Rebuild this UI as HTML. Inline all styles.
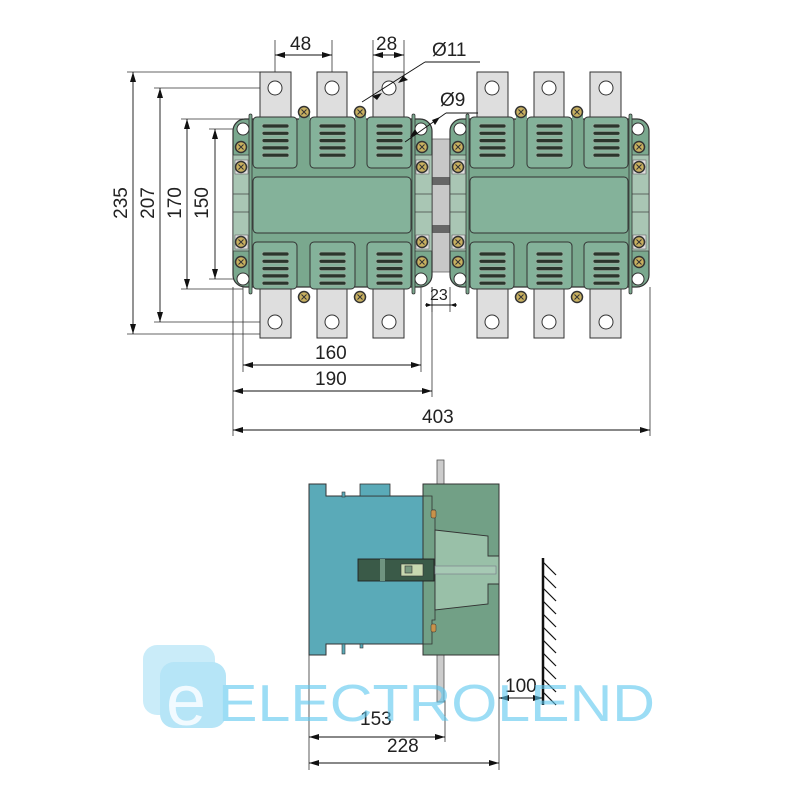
<!DOCTYPE html>
<html><head><meta charset="utf-8"><style>html,body{margin:0;padding:0;background:#fff}svg{display:block}</style></head>
<body>
<svg width="800" height="800" viewBox="0 0 800 800" xmlns="http://www.w3.org/2000/svg" font-family="Liberation Sans, sans-serif">
<defs>
<marker id="a" viewBox="0 0 10 6" refX="10" refY="3" markerWidth="10" markerHeight="6" orient="auto-start-reverse" markerUnits="userSpaceOnUse"><path d="M0,0L10,3L0,6z" fill="#111"/></marker>
<g id="scr"><circle r="5.5" fill="#c8b060" stroke="#333" stroke-width="1.5"/><path d="M-2.5,-2.5L2.5,2.5M2.5,-2.5L-2.5,2.5" stroke="#333" stroke-width="1"/></g>
<g id="slots">
<rect x="0" y="0" width="27" height="4" rx="2" fill="#2b352c" stroke="#9ab0a0" stroke-width="0.8"/>
<rect x="0" y="7.3" width="27" height="4" rx="2" fill="#2b352c" stroke="#9ab0a0" stroke-width="0.8"/>
<rect x="0" y="14.6" width="27" height="4" rx="2" fill="#2b352c" stroke="#9ab0a0" stroke-width="0.8"/>
<rect x="0" y="21.9" width="27" height="4" rx="2" fill="#2b352c" stroke="#9ab0a0" stroke-width="0.8"/>
<rect x="0" y="29.2" width="27" height="4" rx="2" fill="#2b352c" stroke="#9ab0a0" stroke-width="0.8"/>
</g>
<g id="unit">
<g fill="#dedede" stroke="#333" stroke-width="1">
<rect x="260" y="72" width="31" height="50"/><rect x="317" y="72" width="30" height="50"/><rect x="373" y="72" width="31" height="50"/>
<rect x="260" y="285" width="31" height="53"/><rect x="317" y="285" width="30" height="53"/><rect x="373" y="285" width="31" height="53"/>
</g>
<g fill="#fff" stroke="#333" stroke-width="1">
<circle cx="275" cy="88" r="7"/><circle cx="332" cy="88" r="7"/><circle cx="389" cy="88" r="7"/>
<circle cx="275" cy="322" r="7"/><circle cx="332" cy="322" r="7"/><circle cx="389" cy="322" r="7"/>
</g>
<rect x="233" y="119" width="199" height="168" rx="12" fill="#7aa88e" stroke="#333" stroke-width="1.2"/>
<rect x="233" y="155" width="18" height="96" fill="#a9c6b4" stroke="#444" stroke-width="0.8"/>
<rect x="414" y="155" width="18" height="96" fill="#a9c6b4" stroke="#444" stroke-width="0.8"/>
<line x1="233" y1="194" x2="251" y2="194" stroke="#444" stroke-width="0.8"/><line x1="233" y1="212" x2="251" y2="212" stroke="#444" stroke-width="0.8"/>
<line x1="414" y1="194" x2="432" y2="194" stroke="#444" stroke-width="0.8"/><line x1="414" y1="212" x2="432" y2="212" stroke="#444" stroke-width="0.8"/>
<rect x="249" y="114" width="3" height="180" rx="1.5" fill="#7aa88e" stroke="#333" stroke-width="0.8"/>
<rect x="412" y="114" width="3" height="180" rx="1.5" fill="#7aa88e" stroke="#333" stroke-width="0.8"/>
<g fill="#84b29a" stroke="#333" stroke-width="1">
<rect x="253" y="117" width="44" height="51" rx="4"/><rect x="310" y="117" width="45" height="51" rx="4"/><rect x="367" y="117" width="44" height="51" rx="4"/>
<rect x="253" y="177" width="158" height="56" rx="4"/>
<rect x="253" y="242" width="44" height="47" rx="4"/><rect x="310" y="242" width="45" height="47" rx="4"/><rect x="367" y="242" width="44" height="47" rx="4"/>
</g>
<rect x="299" y="110" width="11" height="10" fill="#7aa88e"/><rect x="355" y="110" width="11" height="10" fill="#7aa88e"/>
<use href="#slots" x="262" y="124"/><use href="#slots" x="319" y="124"/><use href="#slots" x="376" y="124"/>
<use href="#slots" x="262" y="252"/><use href="#slots" x="319" y="252"/><use href="#slots" x="376" y="252"/>
<g fill="#fff" stroke="#333" stroke-width="1">
<circle cx="243" cy="129" r="6"/><circle cx="243" cy="279" r="6"/><circle cx="421" cy="129" r="6"/><circle cx="421" cy="279" r="6"/>
</g>
<rect x="235" y="160" width="13" height="14" fill="#ddd" stroke="#666" stroke-width="0.6"/>
<rect x="235" y="235" width="13" height="14" fill="#ddd" stroke="#666" stroke-width="0.6"/>
<rect x="416" y="160" width="13" height="14" fill="#ddd" stroke="#666" stroke-width="0.6"/>
<rect x="416" y="235" width="13" height="14" fill="#ddd" stroke="#666" stroke-width="0.6"/>
<use href="#scr" x="241" y="147"/><use href="#scr" x="241" y="167"/><use href="#scr" x="241" y="242"/><use href="#scr" x="241" y="262"/>
<use href="#scr" x="422" y="147"/><use href="#scr" x="422" y="167"/><use href="#scr" x="422" y="242"/><use href="#scr" x="422" y="262"/>
<use href="#scr" x="304" y="112"/><use href="#scr" x="360" y="112"/><use href="#scr" x="304" y="297"/><use href="#scr" x="360" y="297"/>
</g>
</defs>

<rect x="432" y="139" width="18" height="133" fill="#c8c8c8" stroke="#666" stroke-width="0.8"/>
<rect x="432" y="177" width="18" height="8" fill="#666"/><rect x="432" y="225" width="18" height="8" fill="#666"/>

<g stroke="#333" stroke-width="0.8" fill="none">
<line x1="127" y1="72" x2="275" y2="72"/><line x1="127" y1="334" x2="275" y2="334"/>
<line x1="154" y1="88" x2="275" y2="88"/><line x1="154" y1="322" x2="275" y2="322"/>
<line x1="181" y1="119" x2="243" y2="119"/><line x1="181" y1="289" x2="243" y2="289"/>
<line x1="209" y1="129" x2="243" y2="129"/><line x1="209" y1="279" x2="243" y2="279"/>
<line x1="275" y1="40" x2="275" y2="88"/><line x1="332" y1="40" x2="332" y2="88"/>
<line x1="373" y1="40" x2="373" y2="72"/><line x1="404" y1="40" x2="404" y2="72"/>
<line x1="243" y1="279" x2="243" y2="372"/><line x1="421" y1="279" x2="421" y2="372"/>
<line x1="233" y1="287" x2="233" y2="436"/><line x1="432" y1="287" x2="432" y2="397"/>
<line x1="650" y1="287" x2="650" y2="436"/>
<line x1="432" y1="287" x2="432" y2="312"/><line x1="450" y1="287" x2="450" y2="312"/>
</g>

<use href="#unit"/>
<use href="#unit" x="217"/>

<g stroke="#111" stroke-width="0.9" fill="none" marker-start="url(#a)" marker-end="url(#a)">
<line x1="133" y1="72" x2="133" y2="334"/>
<line x1="160" y1="88" x2="160" y2="322"/>
<line x1="187" y1="119" x2="187" y2="289"/>
<line x1="215" y1="129" x2="215" y2="279"/>
<line x1="275" y1="55" x2="332" y2="55"/>
<line x1="373" y1="55" x2="404" y2="55"/>
<line x1="243" y1="365" x2="421" y2="365"/>
<line x1="233" y1="391" x2="432" y2="391"/>
<line x1="233" y1="430" x2="650" y2="430"/>
</g>
<g stroke="#111" stroke-width="0.9" fill="none">
<line x1="362" y1="102" x2="425" y2="62"/><line x1="425" y1="62" x2="480" y2="62"/>
<line x1="405" y1="142" x2="446" y2="113"/><line x1="446" y1="113" x2="478" y2="113"/>
<line x1="425" y1="305" x2="457" y2="305"/>
</g>
<path d="M372,96l10,-3l-5,7z M408,80l-10,3l5,-7z" fill="#111"/>
<path d="M410,137l5,-8l3,5z M440,117l-5,8l-3,-5z" fill="#111"/>
<path d="M432,305l-6,-2v4z M450,305l6,-2v4z" fill="#111"/>

<g font-size="19" fill="#222">
<text x="290" y="50">48</text>
<text x="376" y="50">28</text>
<text x="432" y="56">Ø11</text>
<text x="440" y="106">Ø9</text>
<text x="430" y="300" font-size="16">23</text>
<text x="315" y="359">160</text>
<text x="315" y="385">190</text>
<text x="422" y="423">403</text>
<text transform="translate(127,203) rotate(-90)" text-anchor="middle">235</text>
<text transform="translate(154,203) rotate(-90)" text-anchor="middle">207</text>
<text transform="translate(181,203) rotate(-90)" text-anchor="middle">170</text>
<text transform="translate(208,203) rotate(-90)" text-anchor="middle">150</text>
</g>

<rect x="437" y="460" width="7" height="26" fill="#ccc" stroke="#555" stroke-width="0.8"/>
<rect x="437" y="654" width="7" height="48" fill="#ccc" stroke="#555" stroke-width="0.8"/>
<path d="M309,484H326V496H423V644H326V655H309Z" fill="#5aaab8" stroke="#333" stroke-width="1"/>
<rect x="360" y="484" width="30" height="12" fill="#5aaab8" stroke="#333" stroke-width="0.8"/>
<rect x="342" y="492" width="3" height="5" fill="#5aaab8" stroke="#333" stroke-width="0.6"/>
<rect x="342" y="644" width="3" height="10" fill="#5aaab8" stroke="#333" stroke-width="0.6"/>
<rect x="360" y="644" width="3" height="4" fill="#5aaab8" stroke="#333" stroke-width="0.6"/>
<rect x="423" y="484" width="76" height="171" fill="#72a086" stroke="#333" stroke-width="1"/>
<path d="M423,496H432V510H435V620H432V644H423" fill="none" stroke="#333" stroke-width="0.8"/>
<path d="M435,530L488,536V556H499V584H488V604L435,610Z" fill="#99c0a8" stroke="#333" stroke-width="0.9"/>
<rect x="435" y="566" width="61" height="8" fill="#a6c9b4" stroke="#778" stroke-width="0.6"/>
<rect x="358" y="559" width="76" height="22" fill="#3a5a48" stroke="#222" stroke-width="0.9"/>
<rect x="380" y="559" width="5" height="22" fill="#6f9480"/>
<rect x="401" y="564" width="22" height="12" fill="#c8d8b0" stroke="#333" stroke-width="0.6"/>
<rect x="405" y="566" width="7" height="7" fill="#7a9a80" stroke="#333" stroke-width="0.6"/>
<rect x="431" y="510" width="5" height="8" rx="1.5" fill="#c8924a" stroke="#333" stroke-width="0.5"/>
<rect x="431" y="624" width="5" height="8" rx="1.5" fill="#c8924a" stroke="#333" stroke-width="0.5"/>

<line x1="543" y1="558" x2="543" y2="705" stroke="#111" stroke-width="2.5"/>
<g stroke="#111" stroke-width="1.2">
<line x1="543" y1="562" x2="556" y2="575"/><line x1="543" y1="575" x2="556" y2="588"/><line x1="543" y1="588" x2="556" y2="601"/>
<line x1="543" y1="601" x2="556" y2="614"/><line x1="543" y1="614" x2="556" y2="627"/><line x1="543" y1="627" x2="556" y2="640"/>
<line x1="543" y1="640" x2="556" y2="653"/><line x1="543" y1="653" x2="556" y2="666"/><line x1="543" y1="666" x2="556" y2="679"/>
<line x1="543" y1="679" x2="556" y2="692"/><line x1="543" y1="692" x2="556" y2="705"/>
</g>

<g stroke="#333" stroke-width="0.8">
<line x1="309" y1="655" x2="309" y2="770"/><line x1="499" y1="655" x2="499" y2="770"/><line x1="445" y1="700" x2="445" y2="742"/>
</g>
<g stroke="#111" stroke-width="0.9" marker-start="url(#a)" marker-end="url(#a)">
<line x1="309" y1="737" x2="445" y2="737"/>
<line x1="309" y1="763" x2="499" y2="763"/>
<line x1="499" y1="698" x2="543" y2="698"/>
</g>
<g font-size="19" fill="#222">
<text x="505" y="692">100</text>
<text x="360" y="725">153</text>
<text x="387" y="752">228</text>
</g>

<g opacity="0.6">
<rect x="143" y="645" width="72" height="70" rx="14" fill="#a8e0f6"/>
<rect x="160" y="662" width="66" height="66" rx="14" fill="#86d4f2"/>
<text x="166" y="725" font-size="72" fill="#e8f8ff">e</text>
<text x="218" y="721" font-size="52" fill="#5cc8f0" textLength="437" lengthAdjust="spacingAndGlyphs">ELECTROLEND</text>
</g>
</svg>
</body></html>
